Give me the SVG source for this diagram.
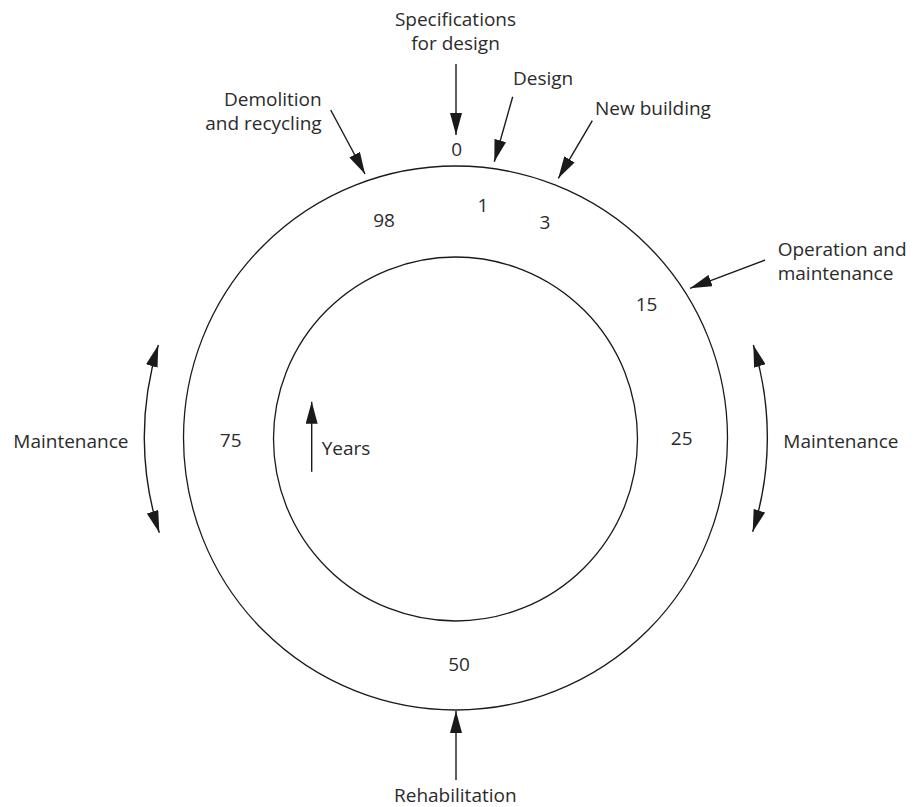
<svg xmlns="http://www.w3.org/2000/svg" width="916" height="807" viewBox="0 0 916 807">
  <style>
    .ring { fill: none; stroke: #1a1a1a; stroke-width: 1.3; }
    .conn { fill: none; stroke: #1a1a1a; stroke-width: 1.4; marker-end: url(#ah); }
    .dbl { fill: none; stroke: #1a1a1a; stroke-width: 1.4; marker-start: url(#ah); marker-end: url(#ah); }
    text { font-family: "Open Sans", "Noto Sans", "Liberation Sans", sans-serif; font-size: 19px; fill: #2b2b2b; }
    .c { text-anchor: middle; }
    .r { text-anchor: end; }
  </style>
  <defs>
    <marker id="ah" viewBox="0 0 22 12" refX="22" refY="6" markerWidth="22" markerHeight="12" markerUnits="userSpaceOnUse" orient="auto-start-reverse">
      <path d="M0,0 L22,6 L0,12 Z" fill="#1a1a1a"/>
    </marker>
  </defs>

  <g id="outer-ring"><circle class="ring" cx="455.5" cy="438" r="272"/></g>
  <g id="inner-ring"><circle class="ring" cx="455.5" cy="439" r="182"/></g>

  <g id="connectors">
    <path class="conn" d="M456,64 L456,135"/>
    <path class="conn" d="M512.7,96.7 L494.3,161.7"/>
    <path class="conn" d="M592.3,120.7 L558.3,178.3"/>
    <path class="conn" d="M330.7,110 L365,174"/>
    <path class="conn" d="M765,260 L690,288.3"/>
    <path class="conn" d="M456,780 L456,711"/>
    <path class="conn" d="M311.7,471.7 L311.7,401.7"/>
    <path class="dbl" d="M158.3,345 A311,311 0 0 0 159.3,532.7"/>
    <path class="dbl" d="M753.3,345 A311,311 0 0 1 752.7,531.7"/>
  </g>

  <g id="specifications"><text class="c" x="455.5" y="26">Specifications</text><text class="c" x="455.5" y="50">for design</text></g>
  <g id="design"><text x="513" y="85">Design</text></g>
  <g id="new-building"><text x="595" y="115">New building</text></g>
  <g id="operation"><text x="777.7" y="256">Operation and</text><text x="777.7" y="280">maintenance</text></g>
  <g id="demolition"><text class="r" x="321.7" y="105.7">Demolition</text><text class="r" x="321.7" y="130">and recycling</text></g>
  <g id="maintenance-left"><text x="13.3" y="448">Maintenance</text></g>
  <g id="maintenance-right"><text x="783.3" y="448">Maintenance</text></g>
  <g id="rehabilitation"><text class="c" x="455.3" y="802">Rehabilitation</text></g>
  <g id="years"><text x="321.7" y="455">Years</text></g>

  <g id="year-0"><text class="c" x="456.7" y="155.7">0</text></g>
  <g id="year-1"><text class="c" x="483" y="212">1</text></g>
  <g id="year-3"><text class="c" x="545" y="229">3</text></g>
  <g id="year-98"><text class="c" x="384" y="227">98</text></g>
  <g id="year-15"><text class="c" x="646.5" y="311">15</text></g>
  <g id="year-25"><text class="c" x="681.7" y="445">25</text></g>
  <g id="year-75"><text class="c" x="230.7" y="446.7">75</text></g>
  <g id="year-50"><text class="c" x="459" y="670.7">50</text></g>
</svg>
